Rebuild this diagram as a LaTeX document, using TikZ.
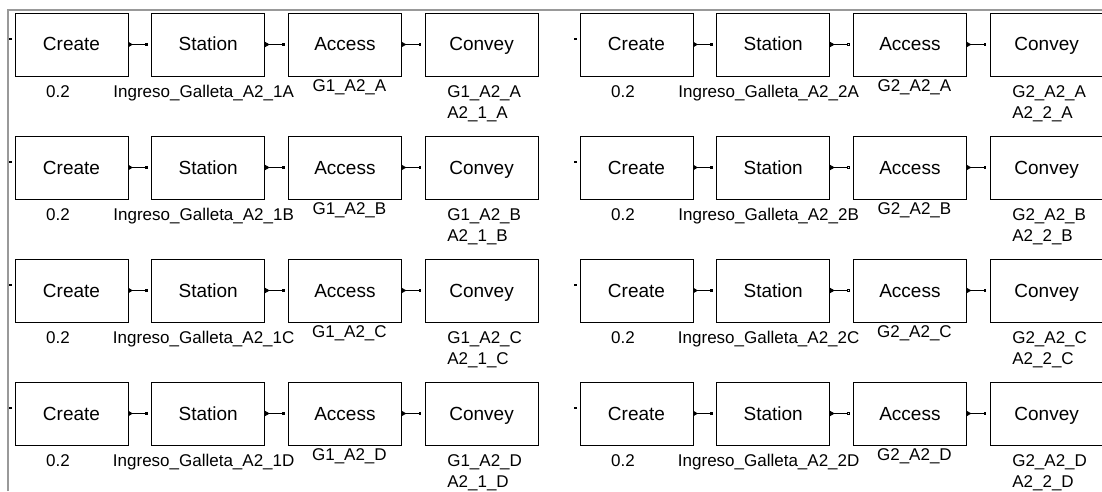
\documentclass[tikz,border=0pt]{standalone}
\usepackage{fontspec}
\setmainfont{Liberation Sans}
\usetikzlibrary{positioning, arrows.meta}

\begin{document}
\begin{tikzpicture}[x=1pt, y=1pt]
    % Styles
    \tikzstyle{block} = [rectangle, draw=black, line width=0.9pt, minimum width=113pt, minimum height=63pt, inner sep=0pt, outer sep=0pt, text centered, text height=16pt, text depth=3pt, font=\fontsize{19}{21}\selectfont]
    \tikzstyle{lbl} = [inner sep=0pt, text height=12pt, text depth=4pt, font=\fontsize{17}{20}\selectfont]
    \tikzstyle{dot} = [rectangle, fill=black, minimum size=2.5pt, inner sep=0pt]
    \tikzstyle{link1} = [line width=0.9pt, {Triangle[reversed, length=5pt, width=5.5pt]}-{Square[length=2.5pt, width=2.5pt]}, shorten >=4pt]
    \tikzstyle{link2} = [line width=0.9pt, {Triangle[reversed, length=5pt, width=5.5pt]}-{Square[open, length=2.5pt, width=2.5pt]}, shorten >=4pt]

    \useasboundingbox (0,0) rectangle (1102,491);
    \draw[black!40, line width=2pt] (8,0) |- (1102,481);

    % Nodes
    \foreach \r/\row in {0/A, 1/B, 2/C, 3/D} {
      \foreach \g/\gx in {1/15, 2/580} {
        \node[block, anchor=north west] (create\g\row) at (\gx, 478-123*\r) {Create};
        \node[block, right=23.7pt of create\g\row] (station\g\row) {Station};
        \node[block, right=23.7pt of station\g\row] (access\g\row) {Access};
        \node[block, right=23.7pt of access\g\row] (convey\g\row) {Convey};
        \node[dot, left=3pt of create\g\row.west, yshift=5.5pt] (in\g\row) {};

        \node[lbl, below=9pt of create\g\row.south, xshift=-13.5pt] (rate\g\row) {0.2};
        \node[lbl, below=9pt of station\g\row.south, xshift=-4.5pt] (name\g\row) {Ingreso\_Galleta\_A2\_\g\row};
        \node[lbl, below=3.5pt of access\g\row.south, xshift=4.5pt] (res\g\row) {G\g\_A2\_\row};
        \node[lbl, below=9pt of convey\g\row.south west, anchor=north west, xshift=22pt] (cvres\g\row) {G\g\_A2\_\row};
        \node[lbl, below=4.5pt of cvres\g\row.south west, anchor=north west] (cvseg\g\row) {A2\_\g\_\row};
      }
    }

    % Connections
    \foreach \row in {A, B, C, D} {
      \foreach \g in {1, 2} {
        \draw[link1] (create\g\row) -- (station\g\row);
        \draw[link\g] (station\g\row) -- (access\g\row);
        \draw[link1] (access\g\row) -- (convey\g\row);
      }
    }
\end{tikzpicture}
\end{document}
